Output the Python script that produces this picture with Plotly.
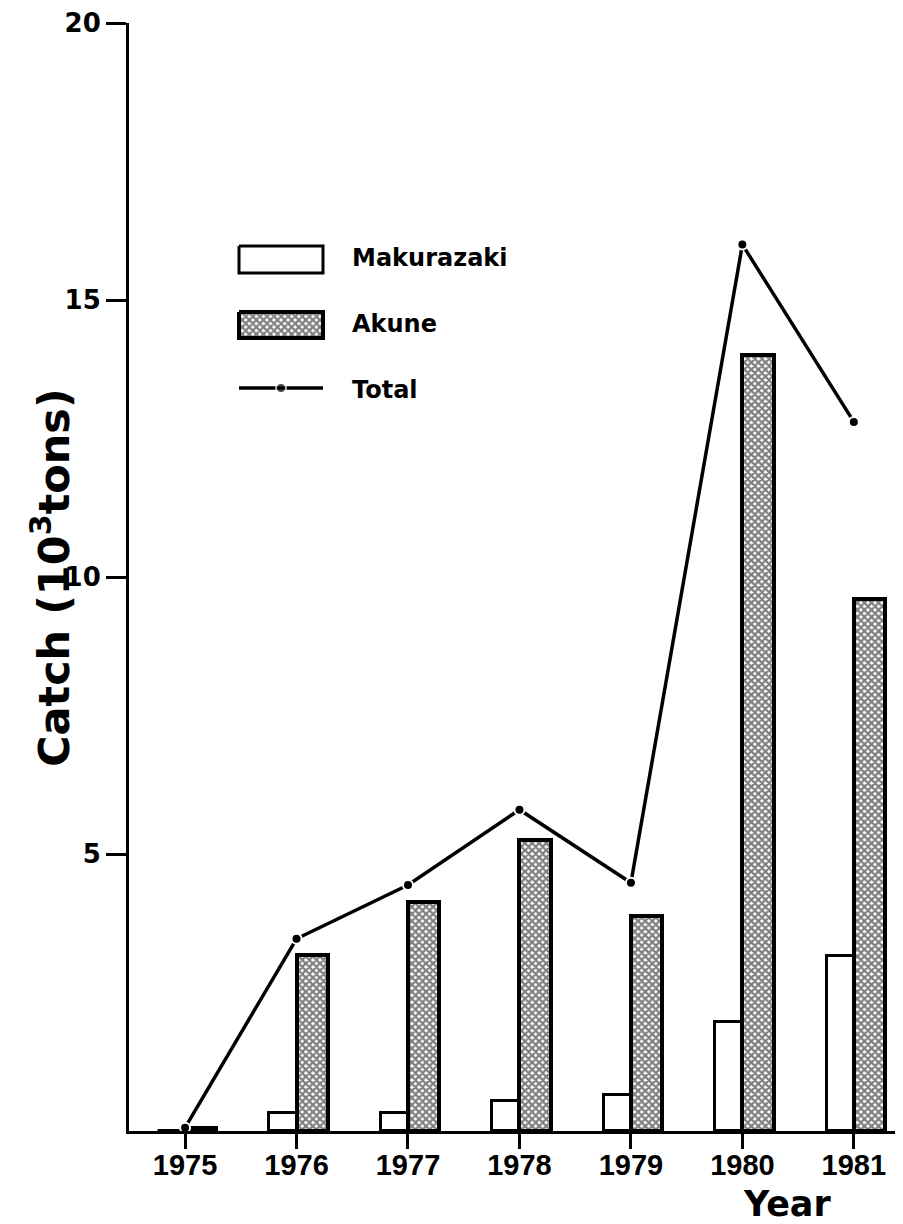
import plotly.graph_objects as go

years = [1975, 1976, 1977, 1978, 1979, 1980, 1981]
year_labels = ["1975", "1976", "1977", "1978", "1979", "1980", "1981"]
makurazaki = [0.0, 0.32, 0.33, 0.54, 0.65, 1.97, 3.16]
akune = [0.06, 3.18, 4.14, 5.25, 3.88, 14.0, 9.6]
total = [0.06, 3.47, 4.44, 5.80, 4.48, 16.0, 12.8]
y_ticks = [5, 10, 15, 20]

# page body has a small margin; lay out in page pixels and compensate
OFF = 7
PAGE_W, PAGE_H = 903, 1224
W, H = PAGE_W - OFF, PAGE_H - OFF
L, R, T, B = 128 - OFF, 0, 22 - OFF, 94
PW, PH = W - L - R, H - T - B

def px(x):
    return (x - OFF - L) / PW

def py(y):
    return (H - B - (y - OFF)) / PH

FONT = "DejaVu Sans"
PATTERN = dict(shape="x", size=5, solidity=0.7, fgcolor="black", bgcolor="white")
fig = go.Figure()

fig.add_trace(go.Bar(
    x=years, y=makurazaki, offset=-0.245, width=0.245,
    marker=dict(color="white", line=dict(color="black", width=3)),
    showlegend=False, name="Makurazaki"))

fig.add_trace(go.Bar(
    x=years, y=akune, offset=0, width=0.28,
    marker=dict(color="white", line=dict(color="black", width=4), pattern=PATTERN),
    showlegend=False, name="Akune"))

fig.add_trace(go.Scatter(
    x=years, y=total, mode="lines+markers",
    line=dict(color="black", width=3.5),
    marker=dict(color="black", size=10, line=dict(color="white", width=2)),
    showlegend=False, name="Total", cliponaxis=False))

# Legend keys (on an overlay axis in unit coordinates)
lx0, lx1 = px(238), px(322)
fig.add_trace(go.Scatter(
    x=[lx0, lx1, lx1, lx0, lx0], y=[py(245), py(245), py(272), py(272), py(245)],
    xaxis="x2", yaxis="y2", mode="lines", fill="toself", fillcolor="white",
    line=dict(color="black", width=3), showlegend=False, hoverinfo="skip"))
fig.add_trace(go.Scatter(
    x=[lx0, lx1, lx1, lx0, lx0], y=[py(311), py(311), py(337), py(337), py(311)],
    xaxis="x2", yaxis="y2", mode="lines", fill="toself", fillpattern=PATTERN,
    line=dict(color="black", width=4), showlegend=False, hoverinfo="skip"))
fig.add_trace(go.Scatter(
    x=[lx0, px(280), lx1], y=[py(387)] * 3,
    xaxis="x2", yaxis="y2", mode="lines+markers",
    line=dict(color="black", width=3.5),
    marker=dict(color="black", size=[0, 10, 0], line=dict(color="white", width=2)),
    showlegend=False, hoverinfo="skip"))

annotations = []
for label, y in [("Makurazaki", 257), ("Akune", 323), ("Total", 389)]:
    annotations.append(dict(text=label, xref="paper", yref="paper", x=px(349), y=py(y),
                            xanchor="left", yanchor="middle", showarrow=False,
                            font=dict(family=FONT, size=24, color="black", weight="bold")))
annotations.append(dict(text="Year", xref="paper", yref="paper", x=px(786), y=py(1203),
                        xanchor="center", yanchor="middle", showarrow=False,
                        font=dict(family=FONT, size=35, color="black", weight="bold")))
annotations.append(dict(text="Catch (10<sup>3</sup>tons)", xref="paper", yref="paper",
                        x=px(50), y=py(577), textangle=-90,
                        xanchor="center", yanchor="middle", showarrow=False,
                        font=dict(family=FONT, size=43, color="black", weight="bold")))

fig.update_layout(
    width=W, height=H, margin=dict(l=L, r=R, t=T, b=B, autoexpand=False),
    paper_bgcolor="white", plot_bgcolor="white",
    barmode="overlay", bargap=0,
    annotations=annotations,
    xaxis=dict(range=[1974.497, 1981.45], tickvals=years, ticktext=year_labels,
               showline=True, linecolor="black", linewidth=3, ticks="outside",
               ticklen=15, tickwidth=2.5, tickcolor="black", showgrid=False, zeroline=False,
               automargin=False, ticklabeloverflow="allow", ticklabelstandoff=-9,
               tickfont=dict(family="Liberation Sans", size=29,
                             color="black", weight="bold")),
    yaxis=dict(range=[0, 20], tickvals=y_ticks, ticktext=[str(v) for v in y_ticks],
               showline=True, linecolor="black", linewidth=3, ticks="outside",
               ticklen=20, tickwidth=2.5, tickcolor="black", showgrid=False, zeroline=False,
               automargin=False, ticklabeloverflow="allow",
               tickfont=dict(family=FONT, size=26, color="black", weight="bold")),
    xaxis2=dict(range=[0, 1], overlaying="x", visible=False, fixedrange=True),
    yaxis2=dict(range=[0, 1], overlaying="y", visible=False, fixedrange=True),
)

fig.write_html("out.html")
